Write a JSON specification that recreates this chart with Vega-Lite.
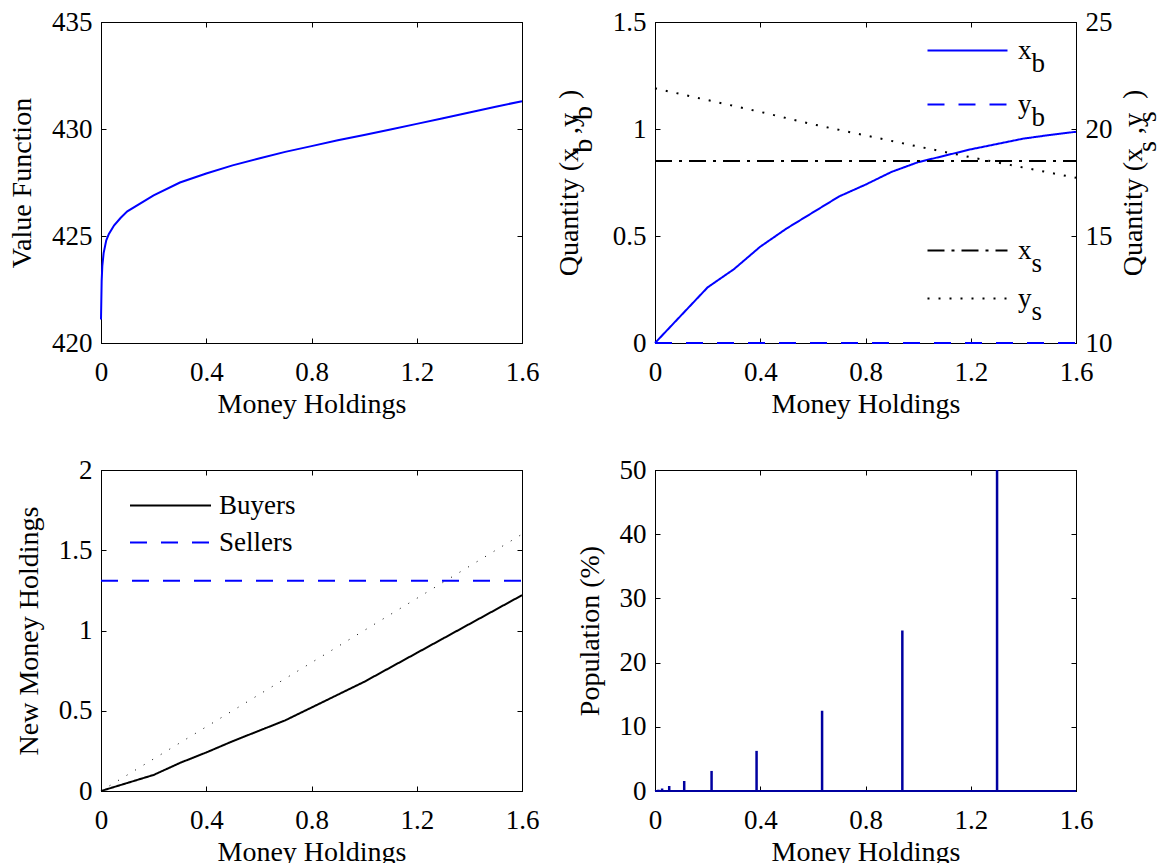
{
  "$schema": "https://vega.github.io/schema/vega-lite/v6.json",
  "padding": {"left": 8, "top": 7, "right": 0, "bottom": 0},
  "background": "#ffffff",
  "columns": 2,
  "spacing": {"row": 127, "column": 133},
  "bounds": "flush",
  "resolve": {"scale": {"color": "independent", "strokeDash": "independent"}},
  "config": {
    "font": "Liberation Serif",
    "view": {"stroke": "#000000", "strokeWidth": 1},
    "axis": {
      "labelFont": "Liberation Serif", "labelFontSize": 27, "labelColor": "#000000",
      "titleFont": "Liberation Serif", "titleFontSize": 28, "titleFontWeight": "normal", "titleColor": "#000000",
      "domainColor": "#000000", "domainWidth": 1, "tickColor": "#000000", "tickWidth": 1, "tickSize": -5,
      "grid": false, "labelFlush": false, "labelOverlap": false
    },
    "axisX": {"labelPadding": 21, "titlePadding": 5},
    "axisY": {"labelPadding": 14, "titlePadding": 15},
    "legend": {"labelFont": "Liberation Serif", "labelFontSize": 27, "labelColor": "#000000"},
    "style": {"guide-label": {"lineHeight": 13}}
  },
  "datasets": {
    "vf": [
      {"m": 0, "v": 421.1}, {"m": 0.0025, "v": 422.9}, {"m": 0.005, "v": 423.6}, {"m": 0.01, "v": 424.2},
      {"m": 0.02, "v": 424.8}, {"m": 0.03, "v": 425.1}, {"m": 0.05, "v": 425.5}, {"m": 0.075, "v": 425.85},
      {"m": 0.1, "v": 426.15}, {"m": 0.2, "v": 426.9}, {"m": 0.3, "v": 427.5}, {"m": 0.4, "v": 427.92},
      {"m": 0.5, "v": 428.3}, {"m": 0.6, "v": 428.62}, {"m": 0.7, "v": 428.93}, {"m": 0.8, "v": 429.2},
      {"m": 0.9, "v": 429.47}, {"m": 1.0, "v": 429.72}, {"m": 1.1, "v": 429.98}, {"m": 1.2, "v": 430.24},
      {"m": 1.3, "v": 430.5}, {"m": 1.4, "v": 430.77}, {"m": 1.5, "v": 431.04}, {"m": 1.6, "v": 431.3}
    ],
    "qb": [
      {"m": 0, "s": "xb", "q": 0}, {"m": 0.1, "s": "xb", "q": 0.13}, {"m": 0.2, "s": "xb", "q": 0.26},
      {"m": 0.3, "s": "xb", "q": 0.345}, {"m": 0.4, "s": "xb", "q": 0.45}, {"m": 0.5, "s": "xb", "q": 0.535},
      {"m": 0.6, "s": "xb", "q": 0.61}, {"m": 0.7, "s": "xb", "q": 0.685}, {"m": 0.8, "s": "xb", "q": 0.74},
      {"m": 0.9, "s": "xb", "q": 0.8}, {"m": 1.0, "s": "xb", "q": 0.845}, {"m": 1.1, "s": "xb", "q": 0.875},
      {"m": 1.2, "s": "xb", "q": 0.905}, {"m": 1.3, "s": "xb", "q": 0.93}, {"m": 1.4, "s": "xb", "q": 0.955},
      {"m": 1.5, "s": "xb", "q": 0.972}, {"m": 1.6, "s": "xb", "q": 0.987},
      {"m": 0, "s": "yb", "q": 0}, {"m": 1.6, "s": "yb", "q": 0}
    ],
    "qs": [
      {"m": 0, "s": "xs", "q": 18.5}, {"m": 1.6, "s": "xs", "q": 18.5},
      {"m": 0, "s": "ys", "q": 21.9}, {"m": 0.2, "s": "ys", "q": 21.35}, {"m": 0.4, "s": "ys", "q": 20.8},
      {"m": 0.6, "s": "ys", "q": 20.22}, {"m": 0.8, "s": "ys", "q": 19.7}, {"m": 1.0, "s": "ys", "q": 19.18},
      {"m": 1.2, "s": "ys", "q": 18.68}, {"m": 1.4, "s": "ys", "q": 18.2}, {"m": 1.6, "s": "ys", "q": 17.72}
    ],
    "nm": [
      {"m": 0, "s": "Buyers", "n": 0}, {"m": 0.1, "s": "Buyers", "n": 0.05}, {"m": 0.2, "s": "Buyers", "n": 0.1},
      {"m": 0.3, "s": "Buyers", "n": 0.175}, {"m": 0.4, "s": "Buyers", "n": 0.24}, {"m": 0.5, "s": "Buyers", "n": 0.31},
      {"m": 0.6, "s": "Buyers", "n": 0.375}, {"m": 0.7, "s": "Buyers", "n": 0.44}, {"m": 0.8, "s": "Buyers", "n": 0.52},
      {"m": 0.9, "s": "Buyers", "n": 0.6}, {"m": 1.0, "s": "Buyers", "n": 0.68}, {"m": 1.1, "s": "Buyers", "n": 0.77},
      {"m": 1.2, "s": "Buyers", "n": 0.86}, {"m": 1.3, "s": "Buyers", "n": 0.95}, {"m": 1.4, "s": "Buyers", "n": 1.04},
      {"m": 1.5, "s": "Buyers", "n": 1.13}, {"m": 1.6, "s": "Buyers", "n": 1.22},
      {"m": 0, "s": "Sellers", "n": 1.31}, {"m": 1.6, "s": "Sellers", "n": 1.31}
    ],
    "diag": [{"m": 0, "n": 0}, {"m": 1.6, "n": 1.6}],
    "pop": [
      {"m": 0.003, "p": 0.05}, {"m": 0.0065, "p": 0.1}, {"m": 0.013, "p": 0.2}, {"m": 0.027, "p": 0.39},
      {"m": 0.054, "p": 0.78}, {"m": 0.111, "p": 1.56}, {"m": 0.215, "p": 3.125}, {"m": 0.386, "p": 6.25},
      {"m": 0.635, "p": 12.5}, {"m": 0.94, "p": 25}, {"m": 1.3, "p": 50}
    ]
  },
  "concat": [
    {
      "width": 421, "height": 321,
      "data": {"name": "vf"},
      "layer": [
        {
          "mark": {"type": "line", "color": "#0000FF", "strokeWidth": 2},
          "encoding": {
            "x": {"field": "m", "type": "quantitative", "scale": {"domain": [0, 1.6], "nice": false},
                  "axis": {"orient": "bottom", "title": "Money Holdings", "values": [0, 0.4, 0.8, 1.2, 1.6], "format": "~g"}},
            "y": {"field": "v", "type": "quantitative", "scale": {"domain": [420, 435], "nice": false, "zero": false},
                  "axis": {"orient": "left", "title": "Value Function", "values": [420, 425, 430, 435], "format": "d"}}
          }
        },
        {
          "mark": {"type": "point", "opacity": 0},
          "encoding": {
            "x": {"field": "m", "type": "quantitative", "scale": {"domain": [0, 1.6], "nice": false},
                  "axis": {"orient": "top", "labels": false, "title": null, "values": [0, 0.4, 0.8, 1.2, 1.6]}},
            "y": {"field": "v", "type": "quantitative", "scale": {"domain": [420, 435], "nice": false, "zero": false},
                  "axis": {"orient": "right", "labels": false, "title": null, "values": [420, 425, 430, 435]}}
          }
        }
      ],
      "resolve": {"axis": {"x": "independent", "y": "independent"}}
    },
    {
      "width": 421, "height": 321,
      "layer": [
        {
          "data": {"name": "qb"},
          "mark": {"type": "line", "strokeWidth": 2},
          "encoding": {
            "x": {"field": "m", "type": "quantitative", "scale": {"domain": [0, 1.6], "nice": false},
                  "axis": {"orient": "bottom", "title": "Money Holdings", "values": [0, 0.4, 0.8, 1.2, 1.6], "format": "~g"}},
            "y": {"field": "q", "type": "quantitative", "scale": {"domain": [0, 1.5], "nice": false},
                  "axis": {"orient": "left", "values": [0, 0.5, 1, 1.5], "format": "~g", "titleLineHeight": 14,
                           "title": ["\u200bQuantity (x\u2002,y\u2002)\u200b", "\u200b\u2002\u2002\u2002\u2002\u2002\u2002\u2002\u2002\u2006b\u2002\u2006b\u2006\u2006\u200b"]}},
            "color": {"field": "s", "type": "nominal", "scale": {"domain": ["xb", "yb"], "range": ["#0000FF", "#0000FF"]},
                      "legend": {"orient": "none", "legendX": 299, "legendY": 15, "title": null, "padding": 0, "symbolType": "M-4,0H4", "symbolSize": 400, "symbolStrokeWidth": 2, "labelOffset": 37, "rowPadding": 13,
                                 "labelExpr": "[substring(datum.label,0,1), '\u200b\u2002' + substring(datum.label,1)]"}},
            "strokeDash": {"field": "s", "type": "nominal", "scale": {"domain": ["xb", "yb"], "range": [[1, 0], [17, 14]]},
                      "legend": {"orient": "none", "legendX": 299, "legendY": 15, "title": null, "padding": 0, "symbolType": "M-4,0H4", "symbolSize": 400, "symbolStrokeWidth": 2, "labelOffset": 37, "rowPadding": 13,
                                 "labelExpr": "[substring(datum.label,0,1), '\u200b\u2002' + substring(datum.label,1)]"}}
          }
        },
        {
          "data": {"name": "qs"},
          "mark": {"type": "line", "strokeWidth": 2},
          "encoding": {
            "x": {"field": "m", "type": "quantitative", "scale": {"domain": [0, 1.6], "nice": false}, "axis": null},
            "y": {"field": "q", "type": "quantitative", "scale": {"domain": [10, 25], "nice": false, "zero": false},
                  "axis": {"orient": "right", "values": [10, 15, 20, 25], "format": "d", "titleLineHeight": 14, "titleAngle": 270, "titleBaseline": "top", "titlePadding": -7,
                           "title": ["\u200bQuantity (x\u2002,y\u2002)\u200b", "\u200b\u2002\u2002\u2002\u2002\u2002\u2002\u2002\u2002\u2006s\u2002\u2006s\u2002\u200b"]}},
            "color": {"field": "s", "type": "nominal", "scale": {"domain": ["xs", "ys"], "range": ["#000000", "#000000"]},
                      "legend": {"orient": "none", "legendX": 299, "legendY": 215, "title": null, "padding": 0, "symbolType": "M-4,0H4", "symbolSize": 400, "symbolStrokeWidth": 2, "labelOffset": 37, "rowPadding": 7,
                                 "labelExpr": "[substring(datum.label,0,1), '\u200b\u2002' + substring(datum.label,1)]"}},
            "strokeDash": {"field": "s", "type": "nominal", "scale": {"domain": ["xs", "ys"], "range": [[17, 7, 3, 7], [2, 9]]},
                      "legend": {"orient": "none", "legendX": 299, "legendY": 215, "title": null, "padding": 0, "symbolType": "M-4,0H4", "symbolSize": 400, "symbolStrokeWidth": 2, "labelOffset": 37, "rowPadding": 7,
                                 "labelExpr": "[substring(datum.label,0,1), '\u200b\u2002' + substring(datum.label,1)]"}}
          }
        },
        {
          "data": {"name": "qb"},
          "mark": {"type": "point", "opacity": 0},
          "encoding": {
            "x": {"field": "m", "type": "quantitative", "scale": {"domain": [0, 1.6], "nice": false},
                  "axis": {"orient": "top", "labels": false, "title": null, "values": [0, 0.4, 0.8, 1.2, 1.6]}}
          }
        }
      ],
      "resolve": {"scale": {"y": "independent", "color": "independent", "strokeDash": "independent"}, "axis": {"x": "independent", "y": "independent"}}
    },
    {
      "width": 421, "height": 321,
      "layer": [
        {
          "data": {"name": "nm"},
          "mark": {"type": "line", "strokeWidth": 2},
          "encoding": {
            "x": {"field": "m", "type": "quantitative", "scale": {"domain": [0, 1.6], "nice": false},
                  "axis": {"orient": "bottom", "title": "Money Holdings", "values": [0, 0.4, 0.8, 1.2, 1.6], "format": "~g"}},
            "y": {"field": "n", "type": "quantitative", "scale": {"domain": [0, 2], "nice": false},
                  "axis": {"orient": "left", "title": "New Money Holdings", "values": [0, 0.5, 1, 1.5, 2], "format": "~g"}},
            "color": {"field": "s", "type": "nominal", "scale": {"domain": ["Buyers", "Sellers"], "range": ["#000000", "#0000FF"]},
                      "legend": {"orient": "none", "legendX": 56, "legendY": 22, "title": null, "padding": 0, "symbolType": "M-4.05,0H4.05", "symbolSize": 400, "symbolStrokeWidth": 2, "labelOffset": 35, "rowPadding": 9}},
            "strokeDash": {"field": "s", "type": "nominal", "scale": {"domain": ["Buyers", "Sellers"], "range": [[1, 0], [17, 14]]},
                      "legend": {"orient": "none", "legendX": 56, "legendY": 22, "title": null, "padding": 0, "symbolType": "M-4.05,0H4.05", "symbolSize": 400, "symbolStrokeWidth": 2, "labelOffset": 35, "rowPadding": 9}}
          }
        },
        {
          "data": {"name": "diag"},
          "mark": {"type": "line", "strokeWidth": 1, "color": "#000000", "strokeDash": [1, 9]},
          "encoding": {
            "x": {"field": "m", "type": "quantitative", "scale": {"domain": [0, 1.6], "nice": false}, "axis": null},
            "y": {"field": "n", "type": "quantitative", "scale": {"domain": [0, 2], "nice": false}, "axis": null}
          }
        },
        {
          "data": {"name": "diag"},
          "mark": {"type": "point", "opacity": 0},
          "encoding": {
            "x": {"field": "m", "type": "quantitative", "scale": {"domain": [0, 1.6], "nice": false},
                  "axis": {"orient": "top", "labels": false, "title": null, "values": [0, 0.4, 0.8, 1.2, 1.6]}},
            "y": {"field": "n", "type": "quantitative", "scale": {"domain": [0, 2], "nice": false},
                  "axis": {"orient": "right", "labels": false, "title": null, "values": [0, 0.5, 1, 1.5, 2]}}
          }
        }
      ],
      "resolve": {"axis": {"x": "independent", "y": "independent"}}
    },
    {
      "width": 421, "height": 321,
      "layer": [
        {
          "data": {"name": "pop"},
          "mark": {"type": "rule", "color": "#0000A0", "strokeWidth": 2.5},
          "encoding": {
            "x": {"field": "m", "type": "quantitative", "scale": {"domain": [0, 1.6], "nice": false},
                  "axis": {"orient": "bottom", "title": "Money Holdings", "values": [0, 0.4, 0.8, 1.2, 1.6], "format": "~g"}},
            "y": {"field": "p", "type": "quantitative", "scale": {"domain": [0, 50], "nice": false},
                  "axis": {"orient": "left", "title": "Population (%)", "values": [0, 10, 20, 30, 40, 50], "format": "d"}},
            "y2": {"datum": 0}
          }
        },
        {
          "data": {"name": "pop"},
          "mark": {"type": "rule", "color": "#0000A0", "strokeWidth": 2},
          "encoding": {
            "x": {"datum": 0, "type": "quantitative", "axis": null},
            "x2": {"datum": 1.6},
            "y": {"datum": 0, "type": "quantitative", "axis": null}
          }
        },
        {
          "data": {"name": "pop"},
          "mark": {"type": "point", "opacity": 0},
          "encoding": {
            "x": {"field": "m", "type": "quantitative", "scale": {"domain": [0, 1.6], "nice": false},
                  "axis": {"orient": "top", "labels": false, "title": null, "values": [0, 0.4, 0.8, 1.2, 1.6]}},
            "y": {"field": "p", "type": "quantitative", "scale": {"domain": [0, 50], "nice": false},
                  "axis": {"orient": "right", "labels": false, "title": null, "values": [0, 10, 20, 30, 40, 50]}}
          }
        }
      ],
      "resolve": {"axis": {"x": "independent", "y": "independent"}}
    }
  ]
}
